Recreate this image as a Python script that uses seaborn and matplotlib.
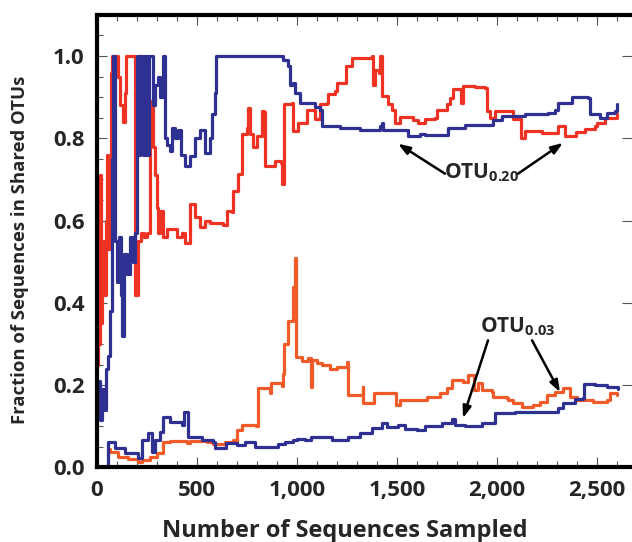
import numpy as np
import pandas as pd
import matplotlib
matplotlib.use('Agg')
import matplotlib.pyplot as plt
from matplotlib.ticker import MultipleLocator
import seaborn as sns

# OTU 0.20 - blue sample
blue20_x = [0, 10, 15, 25, 35, 45, 55, 65, 75, 80, 90, 100, 110, 120, 125, 135, 150, 165, 180, 190,
            200, 210, 215, 230, 240, 250, 260, 275, 280, 290, 305, 315, 330, 340, 350, 365, 375, 390,
            405, 420, 440, 465, 490, 515, 540, 565, 575, 590, 595, 915, 930, 955, 965, 980, 990, 1015,
            1065, 1090, 1115, 1125, 1215, 1315, 1415, 1425, 1430, 1515, 1555, 1615, 1640, 1690, 1755,
            1840, 1940, 1980, 2025, 2140, 2255, 2290, 2305, 2375, 2455, 2465, 2515, 2550, 2590, 2600]
blue20_y = [0.16, 0.21, 0.115, 0.19, 0.14, 0.24, 0.27, 0.38, 0.75, 1.0, 0.55, 0.45, 0.56, 0.42, 0.32,
            0.52, 0.47, 0.56, 0.5, 0.57, 1.0, 0.76, 1.0, 0.76, 1.0, 0.76, 1.0, 1.0, 0.88, 0.93, 0.95, 0.9,
            1.0, 0.8, 0.785, 0.77, 0.825, 0.8, 0.82, 0.76, 0.733, 0.757, 0.8, 0.82, 0.765, 0.8, 0.86,
            0.91, 1.0, 1.0, 0.99, 0.975, 0.93, 0.935, 0.91, 0.885, 0.885, 0.875, 0.87, 0.83, 0.825,
            0.82, 0.83, 0.838, 0.82, 0.82, 0.806, 0.81, 0.808, 0.808, 0.826, 0.833, 0.833, 0.845,
            0.855, 0.86, 0.862, 0.87, 0.886, 0.9, 0.898, 0.86, 0.85, 0.862, 0.867, 0.883]

# OTU 0.20 - red sample
red20_x = [0, 5, 10, 15, 20, 25, 35, 45, 50, 55, 65, 70, 75, 100, 103, 115, 130, 140, 145, 190, 192,
           205, 220, 235, 250, 265, 270, 280, 288, 300, 305, 315, 330, 350, 400, 425, 440, 465, 490,
           515, 540, 565, 630, 650, 675, 680, 705, 725, 750, 755, 765, 780, 800, 820, 825, 835, 840,
           890, 920, 925, 935, 975, 980, 1005, 1030, 1050, 1080, 1090, 1115, 1150, 1155, 1190, 1200,
           1240, 1245, 1275, 1375, 1380, 1390, 1410, 1415, 1425, 1455, 1475, 1490, 1515, 1580, 1605,
           1640, 1690, 1700, 1750, 1765, 1780, 1815, 1820, 1830, 1890, 1940, 1950, 1965, 1990, 2075,
           2080, 2115, 2120, 2140, 2200, 2225, 2305, 2340, 2395, 2440, 2490, 2500, 2540, 2600]
red20_y = [0.25, 0.5, 0.3, 0.71, 0.35, 0.55, 0.42, 0.6, 0.76, 0.53, 0.55, 0.96, 1.0, 1.0, 0.95, 0.88,
           0.84, 0.91, 1.0, 1.0, 0.42, 0.55, 0.57, 0.56, 0.57, 0.87, 0.89, 0.78, 0.71, 0.63, 0.57,
           0.624, 0.56, 0.58, 0.56, 0.57, 0.545, 0.64, 0.61, 0.585, 0.6, 0.595, 0.59, 0.624, 0.62,
           0.672, 0.713, 0.81, 0.826, 0.874, 0.81, 0.78, 0.805, 0.805, 0.867, 0.865, 0.733, 0.745,
           0.74, 0.69, 0.883, 0.885, 0.818, 0.837, 0.837, 0.87, 0.87, 0.847, 0.883, 0.886, 0.907,
           0.915, 0.935, 0.935, 0.975, 0.995, 1.0, 0.93, 0.967, 0.96, 1.0, 0.903, 0.883, 0.87, 0.838,
           0.852, 0.845, 0.838, 0.847, 0.85, 0.87, 0.883, 0.898, 0.92, 0.92, 0.886, 0.927, 0.925,
           0.923, 0.867, 0.85, 0.867, 0.867, 0.847, 0.847, 0.8, 0.818, 0.818, 0.813, 0.83, 0.806,
           0.815, 0.823, 0.83, 0.837, 0.85, 0.858]

# OTU 0.03 - red sample
red03_x = [55, 65, 105, 155, 205, 215, 225, 265, 300, 330, 365, 450, 465, 550, 580, 640, 680, 695,
           700, 725, 745, 795, 805, 865, 870, 925, 930, 935, 955, 980, 982, 990, 995, 1025, 1055,
           1068, 1075, 1100, 1125, 1165, 1200, 1250, 1255, 1325, 1328, 1330, 1380, 1385, 1490, 1495,
           1515, 1630, 1650, 1715, 1750, 1775, 1830, 1855, 1880, 1885, 1905, 1925, 1975, 1980, 2050,
           2055, 2080, 2125, 2180, 2215, 2250, 2275, 2290, 2330, 2365, 2400, 2480, 2550, 2565, 2600]
red03_y = [0.045, 0.037, 0.026, 0.02, 0.014, 0.014, 0.018, 0.026, 0.035, 0.062, 0.065, 0.059, 0.065,
           0.062, 0.058, 0.062, 0.067, 0.062, 0.09, 0.103, 0.103, 0.1, 0.193, 0.18, 0.205, 0.197,
           0.228, 0.3, 0.357, 0.357, 0.438, 0.508, 0.268, 0.26, 0.265, 0.196, 0.262, 0.253, 0.248,
           0.24, 0.244, 0.256, 0.176, 0.176, 0.195, 0.156, 0.156, 0.18, 0.18, 0.152, 0.164, 0.164,
           0.171, 0.18, 0.193, 0.212, 0.207, 0.224, 0.224, 0.188, 0.205, 0.188, 0.183, 0.171, 0.168,
           0.165, 0.156, 0.147, 0.152, 0.159, 0.176, 0.176, 0.183, 0.193, 0.171, 0.164, 0.159, 0.164,
           0.18, 0.176]

# OTU 0.03 - blue sample
blue03_x = [55, 55, 90, 140, 205, 225, 255, 275, 290, 315, 330, 365, 425, 435, 455, 525, 580, 590,
            640, 645, 700, 740, 790, 905, 940, 980, 1000, 1040, 1070, 1175, 1255, 1315, 1330, 1375,
            1420, 1425, 1450, 1505, 1540, 1600, 1640, 1725, 1775, 1790, 1840, 1925, 1990, 1992, 2090,
            2255, 2305, 2330, 2390, 2430, 2435, 2490, 2550, 2605]
blue03_y = [0.0, 0.062, 0.047, 0.035, 0.023, 0.067, 0.084, 0.038, 0.067, 0.086, 0.122, 0.11, 0.103,
            0.135, 0.074, 0.067, 0.062, 0.047, 0.047, 0.059, 0.055, 0.062, 0.05, 0.057, 0.062, 0.067,
            0.069, 0.067, 0.074, 0.067, 0.074, 0.084, 0.084, 0.096, 0.096, 0.108, 0.098, 0.103, 0.093,
            0.091, 0.1, 0.108, 0.118, 0.103, 0.1, 0.108, 0.11, 0.132, 0.135, 0.135, 0.144, 0.156,
            0.166, 0.168, 0.202, 0.2, 0.195, 0.19]

series = {'red20': (red20_x, red20_y), 'red03': (red03_x, red03_y),
          'blue20': (blue20_x, blue20_y), 'blue03': (blue03_x, blue03_y)}
df = pd.concat([pd.DataFrame({'n': x, 'frac': y, 'serie': k}) for k, (x, y) in series.items()],
               ignore_index=True)
palette = {'red20': '#ee3224', 'red03': '#f15a29', 'blue20': '#2e3192', 'blue03': '#2e3192'}

sns.set_style('ticks')
plt.rcParams['font.family'] = ['Open Sans', 'DejaVu Sans']
plt.rcParams['font.weight'] = 'bold'
plt.rcParams['mathtext.fontset'] = 'custom'
plt.rcParams['mathtext.rm'] = 'Open Sans:bold'
plt.rcParams['mathtext.it'] = 'Open Sans:bold'
plt.rcParams['mathtext.bf'] = 'Open Sans:bold'

fig = plt.figure(figsize=(6.32, 5.42), dpi=100)
ax = fig.add_axes([0.1535, 0.1375, 0.8465, 0.835])

sns.lineplot(data=df, x='n', y='frac', hue='serie', palette=palette, sort=False,
             estimator=None, linewidth=2.3, legend=False, drawstyle='steps-post', ax=ax)

ax.set_xlim(0, 2675)
ax.set_ylim(0, 1.1)
ax.xaxis.set_major_locator(MultipleLocator(500))
ax.xaxis.set_minor_locator(MultipleLocator(100))
ax.yaxis.set_major_locator(MultipleLocator(0.2))
ax.yaxis.set_minor_locator(MultipleLocator(0.05))
ax.xaxis.set_major_formatter(plt.FuncFormatter(lambda v, p: f'{int(v):,}'))
ax.yaxis.set_major_formatter(plt.FuncFormatter(lambda v, p: f'{v:.1f}'))

for s in ['left', 'bottom', 'top']:
    ax.spines[s].set_linewidth(3)
    ax.spines[s].set_color('black')
ax.spines['right'].set_visible(False)

ax.tick_params(axis='both', which='major', direction='in', length=7, width=0.8, color='#555555',
               labelsize=16, pad=9, top=True, right=True)
ax.tick_params(axis='both', which='minor', direction='in', length=4, width=0.8, color='#555555',
               top=True, right=False)
ax.tick_params(axis='y', which='major', right=True, labelright=False)
for lab in ax.get_xticklabels() + ax.get_yticklabels():
    lab.set_fontweight('bold')

ax.set_xlabel('Number of Sequences Sampled', fontsize=17, fontweight='bold')
ax.set_ylabel('Fraction of Sequences in Shared OTUs', fontsize=13.3, fontweight='bold')
ax.xaxis.set_label_coords(0.4636, -0.114)
ax.yaxis.set_label_coords(-0.128, 0.48)

arrow = dict(arrowstyle='-|>,head_length=0.7,head_width=0.25', color='black', lw=1.8,
             shrinkA=0, shrinkB=0)
ax.text(1925, 0.716, r'OTU$_{0.20}$', fontsize=15, fontweight='bold', ha='center', va='center')
ax.annotate('', xy=(1505, 0.787), xytext=(1740, 0.714), arrowprops=arrow)
ax.annotate('', xy=(2330, 0.789), xytext=(2105, 0.714), arrowprops=arrow)

ax.text(2105, 0.343, r'OTU$_{0.03}$', fontsize=15, fontweight='bold', ha='center', va='center')
ax.annotate('', xy=(1830, 0.12), xytext=(1955, 0.309), arrowprops=arrow)
ax.annotate('', xy=(2315, 0.183), xytext=(2175, 0.309), arrowprops=arrow)

fig.savefig('out.png', dpi=100)
